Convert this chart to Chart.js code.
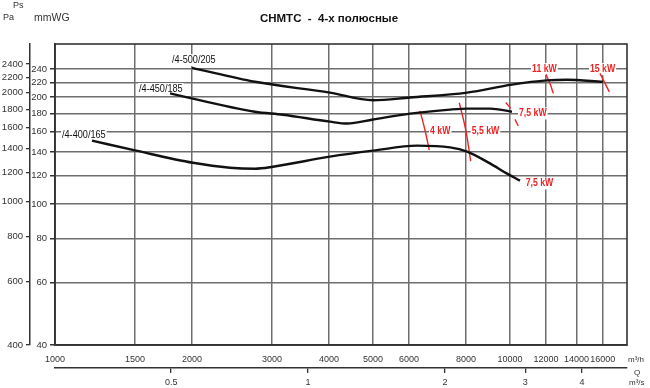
<!DOCTYPE html>
<html><head><meta charset="utf-8">
<script src="https://cdn.jsdelivr.net/npm/chart.js@4.4.1/dist/chart.umd.min.js"></script>
<style>html,body{margin:0;padding:0;background:#fff}#wrap{width:650px;height:388px;position:relative}</style>
</head><body><div id="wrap"><canvas id="c" width="650" height="388"></canvas></div>
<script>
// ---- axis ticks ----
const flowTicks = [1000,1500,2000,3000,4000,5000,6000,8000,10000,12000,14000,16000];
const flowM3sTicks = [0.5,1,2,3,4];
const mmwgTicks = [40,60,80,100,120,140,160,180,200,220,240];
const paTicks = [400,600,800,1000,1200,1400,1600,1800,2000,2200,2400];

// ---- fan curves (Q m3/h, Ps mmWG) ----
const curve500Q = [2000,2750,4020,5000,6030,8050,10100,12060,13340,16000];
const curve500H = [242,221,206,196,199.6,206,217,223,224,221];
const curve450Q = [1790,2750,3170,4020,4385,5000,6030,7380,8050,9035,10100];
const curve450H = [205,182,178.5,170.6,168.5,173,179.7,184.5,185.7,185.7,182];
const curve400Q = [1206,1507,2010,2424,2752,3013,4020,5000,6250,7380,8050,9035,9834,10520];
const curve400H = [150.8,141.3,130.6,126.5,125.7,127.3,135.9,141.3,146,144.4,140.5,130.1,121.9,116.3];
const curveNames = ['/4-500/205','/4-450/185','/4-400/165'];
const curveLabelQ = [1808,1530,1036];
const curveLabelH = [254.4,210.8,156.4];

// ---- motor power marks (Q m3/h, Ps mmWG) ----
const mark4Q = [6344,6503,6647];     const mark4H = [183,161.6,141.8];
const mark55Q = [7738,8003,8196];    const mark55H = [192.9,160.5,132.1];
const mark75aQ = [9784,10035];       const mark75aH = [193.3,186];
const mark75bQ = [10256,10430];      const mark75bH = [173.1,165.8];
const mark11Q = [12000,12245,12450]; const mark11H = [231.9,218.7,205];
const mark15Q = [15770,16530];       const mark15H = [233.4,207];
const kwLabels = ['4 kW','5,5 kW','7,5 kW','7,5 kW','11 kW','15 kW'];
const kwLabelQ = [6673,8237,10467,10827,11180,14990];
const kwLabelH = [160,160,180,114.2,240,240];

const SANS = "'Liberation Sans',Arial,sans-serif";
const pts = (q,h) => q.map((v,i)=>({x:v,y:h[i]}));

const curveDs = (q,h) => ({data:pts(q,h), borderColor:'#111', borderWidth:2.4, pointRadius:0, cubicInterpolationMode:'monotone', fill:false});
const markDs = (q,h) => ({data:pts(q,h), borderColor:'#ee2222', borderWidth:1.4, pointRadius:0, tension:0.4, fill:false});

const datasets = [
  curveDs(curve500Q,curve500H), curveDs(curve450Q,curve450H), curveDs(curve400Q,curve400H),
  markDs(mark4Q,mark4H), markDs(mark55Q,mark55H), markDs(mark75aQ,mark75aH), markDs(mark75bQ,mark75bH),
  markDs(mark11Q,mark11H), markDs(mark15Q,mark15H)
];

const tickFont = {family: SANS, size: 9};
const setTicks = arr => s => { s.ticks = arr.map(v=>({value:v})); };
const CURVE_FONT = '11px ' + SANS;
const KW_FONT = 'bold 10.5px ' + SANS;
const SQUEEZE = 0.83;

function labelWidth(ctx, text, font){ ctx.save(); ctx.font = font; const w = ctx.measureText(text).width*SQUEEZE; ctx.restore(); return w; }
function drawLabel(ctx, text, x, y, font, color){
  ctx.save();
  ctx.translate(x, y); ctx.scale(SQUEEZE, 1);
  ctx.font = font; ctx.textBaseline = 'middle'; ctx.textAlign = 'left';
  ctx.fillStyle = color; ctx.fillText(text, 0, 0);
  ctx.restore();
}

const decor = {
  id:'decor',
  beforeDatasetsDraw(chart){
    const {ctx, chartArea:a, scales} = chart;
    ctx.save();
    ctx.strokeStyle = '#333'; ctx.lineWidth = 1.6;
    ctx.strokeRect(a.left, a.top, a.right-a.left, a.bottom-a.top);
    ctx.restore();
    ctx.save();
    ctx.fillStyle='#fff';
    curveNames.forEach((t,i)=>{
      const x = scales.x.getPixelForValue(curveLabelQ[i]), y = scales.y.getPixelForValue(curveLabelH[i]);
      ctx.fillRect(x-1,y-6,labelWidth(ctx,t,CURVE_FONT)+2,12);
    });
    kwLabels.forEach((t,i)=>{
      const x = scales.x.getPixelForValue(kwLabelQ[i]), y = scales.y.getPixelForValue(kwLabelH[i]);
      ctx.fillRect(x-1,y-6,labelWidth(ctx,t,KW_FONT)+2,12);
    });
    ctx.restore();
  },
  afterDraw(chart){
    const {ctx, scales} = chart;
    curveNames.forEach((t,i)=>{
      drawLabel(ctx, t, scales.x.getPixelForValue(curveLabelQ[i]), scales.y.getPixelForValue(curveLabelH[i]), CURVE_FONT, '#111');
    });
    kwLabels.forEach((t,i)=>{
      drawLabel(ctx, t, scales.x.getPixelForValue(kwLabelQ[i]), scales.y.getPixelForValue(kwLabelH[i]), KW_FONT, '#ee2222');
    });
    ctx.save();
    ctx.fillStyle = '#111';
    ctx.font = 'bold 11.5px ' + SANS; ctx.textAlign = 'center'; ctx.textBaseline = 'middle';
    ctx.fillText('CHMTC  -  4-х полюсные', 329, 19);
    ctx.fillStyle = '#333'; ctx.textAlign = 'left';
    ctx.font = '9px ' + SANS;
    ctx.fillText('Ps', 13, 6);
    ctx.fillText('Pa', 3, 18);
    ctx.font = '10.5px ' + SANS;
    ctx.fillText('mmWG', 34, 18);
    ctx.font = '8px ' + SANS;
    ctx.fillText('m³/h', 628, 360);
    ctx.textAlign = 'center';
    ctx.fillText('Q', 637, 373);
    ctx.textAlign = 'left';
    ctx.fillText('m³/s', 629, 383);
    ctx.restore();
  }
};

new Chart(document.getElementById('c'), {
  type:'line',
  data:{datasets},
  plugins:[decor],
  options:{
    responsive:false, animation:false, devicePixelRatio:1,
    layout:{padding:{top:44, right:23, left:0, bottom:0}},
    plugins:{legend:{display:false}, tooltip:{enabled:false}, title:{display:false}},
    scales:{
      x:{type:'logarithmic', position:'bottom', weight:0, min:1000, max:18080,
         afterBuildTicks:setTicks(flowTicks), afterFit:s=>{s.height=23;},
         grid:{color:'#6e6e6e', lineWidth:1.5, drawTicks:false},
         border:{color:'#333', width:1.6},
         ticks:{padding:9, autoSkip:false, maxRotation:0, font:tickFont, color:'#333', callback:v=>String(v)}},
      x2:{type:'logarithmic', position:'bottom', weight:1, min:1000/3600, max:18080/3600,
         afterBuildTicks:setTicks(flowM3sTicks), afterFit:s=>{s.height=20;},
         grid:{drawOnChartArea:false, tickLength:5, color:'#333', lineWidth:1.3},
         border:{color:'#333', width:1.5},
         ticks:{padding:4, autoSkip:false, maxRotation:0, font:tickFont, color:'#333', callback:v=>String(v)}},
      y:{type:'logarithmic', position:'left', weight:0, min:40, max:282.5,
         afterBuildTicks:setTicks(mmwgTicks), afterFit:s=>{s.width=25;},
         grid:{color:'#6e6e6e', lineWidth:1.5, tickLength:5, tickColor:'#333'},
         border:{color:'#333', width:1.6},
         ticks:{padding:3, autoSkip:false, font:{family:SANS,size:9.5}, color:'#333', callback:v=>String(v)}},
      yPa:{type:'logarithmic', position:'left', weight:1, min:400, max:2729,
         afterBuildTicks:setTicks(paTicks), afterFit:s=>{s.width=30;},
         grid:{drawOnChartArea:false, tickLength:4, color:'#333', lineWidth:1.3},
         border:{color:'#333', width:1.5},
         ticks:{padding:3, autoSkip:false, font:{family:SANS,size:9.5}, color:'#333', callback:v=>String(v)}}
    }
  }
});
</script>
</body></html>
